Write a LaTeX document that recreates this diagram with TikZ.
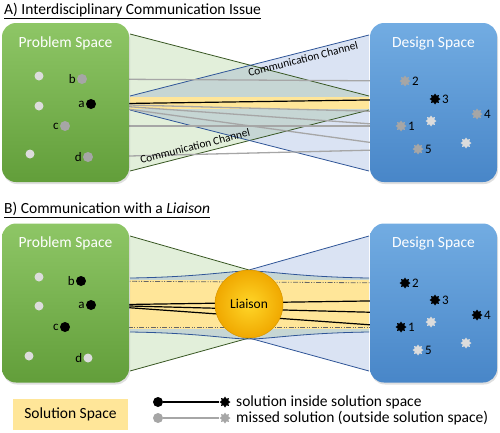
\documentclass[tikz,border=0pt]{standalone}
\usepackage{fontspec}
\setmainfont{Carlito}
\usetikzlibrary{shapes.geometric, positioning, shadows}
\definecolor{problemtop}{RGB}{142,198,102}
\definecolor{problembottom}{RGB}{98,158,58}
\definecolor{designtop}{RGB}{114,172,226}
\definecolor{designbottom}{RGB}{72,134,200}
\definecolor{greenchannelfill}{RGB}{226,239,218}
\definecolor{greenchannelborder}{RGB}{56,87,35}
\definecolor{bluechannelfill}{RGB}{218,227,243}
\definecolor{bluechannelborder}{RGB}{47,85,151}
\definecolor{overlapfill}{RGB}{198,214,212}
\definecolor{solutionfill}{RGB}{255,230,153}
\definecolor{missedgray}{RGB}{166,166,166}
\definecolor{idlegray}{RGB}{220,220,220}
\definecolor{liaisonlight}{RGB}{255,214,40}
\definecolor{liaisondark}{RGB}{240,168,0}
\definecolor{liaisonborder}{RGB}{215,150,0}
\pgfdeclarelayer{back}
\pgfdeclarelayer{wires}
\pgfsetlayers{back,wires,main}
\tikzset{
  spacebox/.style={
    rectangle, rounded corners=14pt,
    minimum width=127pt, minimum height=159pt, inner sep=0pt,
    drop shadow={opacity=0.25, shadow xshift=1pt, shadow yshift=-2pt}},
  problembox/.style={spacebox, top color=problemtop, bottom color=problembottom},
  designbox/.style={spacebox, top color=designtop, bottom color=designbottom},
  boxtitle/.style={font=\fontsize{15.5}{18}\selectfont, text=white},
  paneltitle/.style={anchor=west, font=\fontsize{15.5}{18}\selectfont, inner sep=1pt},
  tag/.style={font=\fontsize{13}{15}\selectfont, inner sep=1pt},
  dot/.style={circle, inner sep=0pt, minimum size=10pt},
  pickdot/.style={dot, fill=black},
  misseddot/.style={dot, fill=missedgray},
  idledot/.style={dot, fill=idlegray, minimum size=9pt},
  sol/.style={star, star points=8, star point ratio=1.5,
    inner sep=0pt, minimum size=11pt},
  picksol/.style={sol, fill=black},
  missedsol/.style={sol, fill=missedgray},
  idlesol/.style={sol, fill=idlegray},
  pickline/.style={draw=black, line width=1.2pt},
  missedline/.style={draw=missedgray, line width=1.3pt},
  dashline/.style={draw=black!60, line width=0.8pt,
    dash pattern=on 5pt off 1.5pt on 1pt off 1.5pt on 1pt off 1.5pt},
  channeltext/.style={font=\fontsize{11.3}{13}\selectfont, rotate=14.3, inner sep=0pt},
  keytext/.style={font=\fontsize{15.5}{18}\selectfont, anchor=west, inner sep=0pt}
}
\begin{document}
\begin{tikzpicture}[x=1pt, y=-1pt]
  \useasboundingbox (0,0) rectangle (500,432);

  %% Panel A: titles and spaces
  \node[paneltitle] (titleA) at (3,11)
    {\underline{A) Interdisciplinary Communication Issue}};
  \node[problembox] (probA) at (65.5,102.5) {};
  \node[boxtitle, below=10pt of probA.north] (probAtitle) {Problem Space};
  \node[designbox] (desA) at (433.5,102.5) {};
  \node[boxtitle, below=10pt of desA.north] (desAtitle) {Design Space};

  %% Panel A: channels
  \begin{pgfonlayer}{back}
    \fill[greenchannelfill] (130,34) -- (369,96) -- (369,110) -- (130,171) -- cycle;
    \fill[bluechannelfill] (130,96) -- (369,35) -- (369,171) -- (130,110) -- cycle;
    \fill[overlapfill] (130,96) -- (250.5,65.2) -- (369,96) -- (369,110)
      -- (249.5,140.5) -- (130,110) -- cycle;
    \fill[solutionfill] (130,97) rectangle (369,109);
    \draw[greenchannelborder, line width=0.8pt] (130,34) -- (369,96);
    \draw[greenchannelborder, line width=0.8pt] (130,171) -- (369,110);
    \draw[bluechannelborder, line width=0.8pt] (130,96) -- (369,35);
    \draw[bluechannelborder, line width=0.8pt] (130,110) -- (369,171);
  \end{pgfonlayer}
  \node[channeltext] (chanA1) at (303,59) {Communication Channel};
  \node[channeltext] (chanA2) at (195,146) {Communication Channel};

  %% Panel A: problems
  \node[idledot] (pA1) at (39,76) {};
  \node[idledot] (pA2) at (39,106) {};
  \node[idledot] (pA3) at (30,154) {};
  \node[misseddot, label={[tag]left:b}] (bA) at (82,79) {};
  \node[pickdot, label={[tag]left:a}] (aA) at (91,104) {};
  \node[misseddot, label={[tag]left:c}] (cA) at (65,126) {};
  \node[misseddot, label={[tag]left:d}] (dA) at (88,157) {};

  %% Panel A: solutions
  \node[missedsol, label={[tag]right:1}] (s1A) at (401,126) {};
  \node[missedsol, label={[tag]right:2}] (s2A) at (405,81) {};
  \node[picksol, label={[tag]right:3}] (s3A) at (435,99) {};
  \node[missedsol, label={[tag]right:4}] (s4A) at (477,114) {};
  \node[missedsol, label={[tag]right:5}] (s5A) at (418,149) {};
  \node[idlesol] (sA6) at (431,121) {};
  \node[idlesol] (sA7) at (466,143) {};

  \begin{pgfonlayer}{wires}
    \draw[missedline] (bA) -- (s2A);
    \draw[missedline] (cA) -- (s1A);
    \draw[missedline] (dA) -- (s5A);
    \draw[missedline] (aA) -- (s4A);
    \draw[missedline] (aA) -- (s1A);
    \draw[missedline] (aA) -- (s5A);
    \draw[pickline] (aA) -- (s3A);
  \end{pgfonlayer}

  %% Panel B: titles and spaces
  \node[paneltitle] (titleB) at (3,210)
    {\underline{B) Communication with a \textit{Liaison}}};
  \node[problembox] (probB) at (65.5,303) {};
  \node[boxtitle, below=10pt of probB.north] (probBtitle) {Problem Space};
  \node[designbox] (desB) at (433.5,303) {};
  \node[boxtitle, below=10pt of desB.north] (desBtitle) {Design Space};

  %% Panel B: channels through the liaison
  \begin{pgfonlayer}{back}
    \fill[greenchannelfill] (130,236) -- (249,270) -- (249,338) -- (130,371) -- cycle;
    \fill[bluechannelfill] (249,270) -- (369,236) -- (369,371) -- (249,338) -- cycle;
    \fill[overlapfill] (130,278) .. controls (200,277) and (228,271) .. (249,271)
      .. controls (270,271) and (300,277) .. (369,278) -- (369,332)
      .. controls (300,333) and (270,339) .. (249,339)
      .. controls (228,339) and (200,333) .. (130,332) -- cycle;
    \fill[solutionfill] (130,280) rectangle (369,329);
    \draw[greenchannelborder, line width=0.8pt] (130,236) -- (249,270);
    \draw[greenchannelborder, line width=0.8pt] (130,371) -- (249,338);
    \draw[bluechannelborder, line width=0.8pt] (249,270) -- (369,236);
    \draw[bluechannelborder, line width=0.8pt] (249,338) -- (369,371);
    \draw[bluechannelborder, line width=0.8pt] (130,278)
      .. controls (200,277) and (228,271) .. (249,271)
      .. controls (270,271) and (300,277) .. (369,278);
    \draw[bluechannelborder, line width=0.8pt] (130,332)
      .. controls (200,333) and (228,339) .. (249,339)
      .. controls (270,339) and (300,333) .. (369,332);
  \end{pgfonlayer}
  \node[circle, minimum size=68pt, inner sep=0pt, inner color=liaisonlight,
    outer color=liaisondark, draw=liaisonborder, line width=0.5pt,
    font=\fontsize{13.5}{16}\selectfont] (liaison) at (249,304) {Liaison};

  %% Panel B: problems
  \node[idledot] (pB1) at (39,277) {};
  \node[idledot] (pB2) at (39,306) {};
  \node[idledot] (pB3) at (29,356) {};
  \node[pickdot, label={[tag]left:b}] (bB) at (81,281) {};
  \node[pickdot, label={[tag]left:a}] (aB) at (91,305) {};
  \node[pickdot, label={[tag]left:c}] (cB) at (65,327) {};
  \node[idledot, label={[tag]left:d}] (dB) at (88,358) {};

  %% Panel B: solutions
  \node[picksol, label={[tag]right:1}] (s1B) at (401,327) {};
  \node[picksol, label={[tag]right:2}] (s2B) at (405,283) {};
  \node[picksol, label={[tag]right:3}] (s3B) at (435,300) {};
  \node[picksol, label={[tag]right:4}] (s4B) at (477,315) {};
  \node[idlesol, label={[tag]right:5}] (s5B) at (418,350) {};
  \node[idlesol] (sB6) at (431,322) {};
  \node[idlesol] (sB7) at (466,343) {};

  \begin{pgfonlayer}{wires}
    \draw[dashline] (bB) -- (s2B);
    \draw[dashline] (cB) -- (s1B);
    \draw[pickline] (aB) -- (s3B);
    \draw[pickline] (aB) -- (s4B);
    \draw[pickline] (aB) -- (s1B);
  \end{pgfonlayer}

  %% Legend
  \node[rectangle, fill=solutionfill, minimum width=115pt, minimum height=31pt,
    font=\fontsize{15.5}{18}\selectfont] (solkey) at (70.5,414.5) {Solution Space};
  \node[pickdot] (keydot1) at (158,402) {};
  \node[picksol] (keysol1) at (225,402) {};
  \node[misseddot] (keydot2) at (158,418) {};
  \node[missedsol] (keysol2) at (225,418) {};
  \draw[pickline] (keydot1) -- (keysol1);
  \draw[missedline] (keydot2) -- (keysol2);
  \node[keytext, right=11pt of keysol1.center] (keytext1) {solution inside solution space};
  \node[keytext, right=11pt of keysol2.center] (keytext2) {missed solution (outside solution space)};

\end{tikzpicture}
\end{document}
